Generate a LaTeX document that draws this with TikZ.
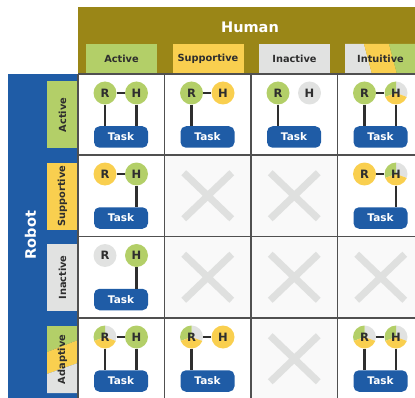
\documentclass[tikz,border=0pt]{standalone}
\usepackage{fontspec}
\setmainfont{DejaVu Sans}
\definecolor{hdrolive}{HTML}{9A8617}
\definecolor{cgreen}{HTML}{B3CF68}
\definecolor{cyellow}{HTML}{F9CF4F}
\definecolor{cgray}{HTML}{E1E2E1}
\definecolor{cblue}{HTML}{1F5CA6}
\definecolor{ctext}{HTML}{2E2E2E}
\definecolor{cgrid}{HTML}{505050}
\definecolor{cxmark}{HTML}{DFE0DF}
\definecolor{cxfill}{HTML}{F9F9F9}
\tikzset{
  agent/.style={circle, minimum size=23pt, inner sep=0pt, font=\fontsize{11.5}{13}\selectfont\bfseries, text=ctext},
  ag/.style={agent, fill=cgreen},
  ay/.style={agent, fill=cyellow},
  agr/.style={agent, fill=cgray},
  atri/.style={agent, path picture={
      \fill[cgray] (path picture bounding box.center) -- ++(-20:13) arc[start angle=-20, end angle=90, radius=13] -- cycle;
      \fill[cgreen] (path picture bounding box.center) -- ++(90:13) arc[start angle=90, end angle=200, radius=13] -- cycle;
      \fill[cyellow] (path picture bounding box.center) -- ++(200:13) arc[start angle=200, end angle=340, radius=13] -- cycle;}},
  taskbox/.style={rounded corners=5.5pt, fill=cblue, minimum width=54pt, minimum height=21.5pt, inner sep=0pt, text=white, font=\fontsize{10.5}{12}\selectfont\bfseries},
  conn/.style={draw=ctext, line width=2.2pt},
  hlab/.style={minimum width=71pt, minimum height=30pt, inner sep=0pt, font=\fontsize{9.8}{11}\selectfont\bfseries, text=ctext},
  rlab/.style={rotate=90, minimum width=67pt, minimum height=31pt, inner sep=0pt, font=\fontsize{9.8}{11}\selectfont\bfseries, text=ctext},
  bigtitle/.style={font=\fontsize{14.5}{16}\selectfont\bfseries, text=white, inner sep=0pt},
  gridline/.style={draw=cgrid, line width=1.4pt},
  xmark/.style={draw=cxmark, line width=7pt},
}
% #1 id, #2 x left, #3 y top, #4 R style, #5 H style, #6 link, #7 R down, #8 H down
\newcommand\cellat[8]{%
  \node[#4] (#1r) at ({#2+27},{#3-19}) {R};
  \node[#5] (#1h) at ({#2+58.5},{#3-19}) {H};
  \node[taskbox] (#1t) at ({#2+43},{#3-63}) {Task};
  \ifnum#6=1 \draw[conn] (#1r) -- (#1h);\fi
  \ifnum#7=1 \draw[conn] (#1r) -- (#1r |- #1t.north);\fi
  \ifnum#8=1 \draw[conn] (#1h) -- (#1h |- #1t.north);\fi
}
\newcommand\xfillat[2]{\fill[cxfill] (#1,#2) rectangle ++(86.5,-81.5);}
\newcommand\xmarkat[3]{%
  \coordinate (#1) at ({#2+43.25},{#3-40.75});
  \draw[xmark] (#1) +(-24,-23) -- +(24,23) (#1) +(-24,23) -- +(24,-23);}
\begin{document}
\begin{tikzpicture}[x=1pt,y=1pt]
\useasboundingbox (0,0) rectangle (415,397);
\clip (0,0) rectangle (415,397);
% header band
\fill[hdrolive] (78,323) rectangle (420,390);
\node[bigtitle] (human) at (250,369.5) {Human};
% robot band
\fill[cblue] (8,-5) rectangle (78,323);
\node[bigtitle, rotate=90] (robot) at (30.5,162) {Robot};
% human sub labels
\node[hlab, fill=cgreen] (hact) at (121.5,338) {Active};
\node[hlab, fill=cyellow] (hsup) at (208,338) {Supportive};
\node[hlab, fill=cgray] (hina) at (294.5,338) {Inactive};
\fill[cgray] (345,353) -- (364,353) -- (372,323) -- (345,323) -- cycle;
\fill[cyellow] (364,353) -- (389,353) -- (397,323) -- (372,323) -- cycle;
\fill[cgreen] (389,353) -- (420,353) -- (420,323) -- (397,323) -- cycle;
\node[hlab] (hint) at (380.5,338) {Intuitive};
% robot sub labels
\node[rlab, fill=cgreen] (ract) at (62.5,282) {Active};
\node[rlab, fill=cyellow] (rsup) at (62.5,201) {Supportive};
\node[rlab, fill=cgray] (rina) at (62.5,119.5) {Inactive};
\fill[cgreen] (47,71) -- (78,71) -- (78,57) -- (47,45) -- cycle;
\fill[cyellow] (47,45) -- (78,57) -- (78,34) -- (47,23) -- cycle;
\fill[cgray] (47,23) -- (78,34) -- (78,4) -- (47,4) -- cycle;
\node[rlab] (rada) at (62.5,37.5) {Adaptive};
% empty cell fills
\xfillat{164.5}{242}
\xfillat{251}{242}
\xfillat{164.5}{160.5}
\xfillat{251}{160.5}
\xfillat{337.5}{160.5}
\xfillat{251}{79}
% grid
\draw[gridline] (78,323) -- (420,323);
\draw[gridline] (78,242) -- (420,242);
\draw[gridline] (78,160.5) -- (420,160.5);
\draw[gridline] (78,79) -- (420,79);
\draw[gridline] (78,323) -- (78,-5);
\draw[gridline] (164.5,323) -- (164.5,-5);
\draw[gridline] (251,323) -- (251,-5);
\draw[gridline] (337.5,323) -- (337.5,-5);
% X marks
\xmarkat{x22}{164.5}{242}
\xmarkat{x23}{251}{242}
\xmarkat{x32}{164.5}{160.5}
\xmarkat{x33}{251}{160.5}
\xmarkat{x34}{337.5}{160.5}
\xmarkat{x43}{251}{79}
% row 1: robot active
\cellat{c11}{78}{323}{ag}{ag}{1}{1}{1}
\cellat{c12}{164.5}{323}{ag}{ay}{1}{1}{0}
\cellat{c13}{251}{323}{ag}{agr}{0}{1}{0}
\cellat{c14}{337.5}{323}{ag}{atri}{1}{1}{1}
% row 2: robot supportive
\cellat{c21}{78}{242}{ay}{ag}{1}{0}{1}
\cellat{c24}{337.5}{242}{ay}{atri}{1}{0}{1}
% row 3: robot inactive
\cellat{c31}{78}{160.5}{agr}{ag}{0}{0}{1}
% row 4: robot adaptive
\cellat{c41}{78}{79}{atri}{ag}{1}{1}{1}
\cellat{c42}{164.5}{79}{atri}{ay}{1}{1}{0}
\cellat{c44}{337.5}{79}{atri}{atri}{1}{1}{1}
\end{tikzpicture}
\end{document}
